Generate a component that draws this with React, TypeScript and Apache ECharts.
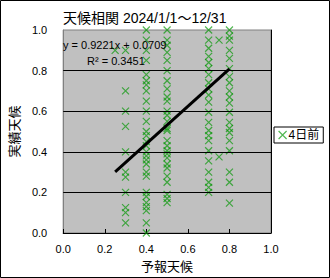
import React, { useEffect, useRef } from "react";
import * as echarts from "echarts";

const chartTitle = "天候相関 2024/1/1～12/31";
const seriesName = "4日前";
const xAxisName = "予報天候";
const yAxisName = "実績天候";
const axisTicks = [0, 0.2, 0.4, 0.6, 0.8, 1.0];
const gridLineValues = [0.2, 0.4, 0.6, 0.8];

const forecastValues = [0.25, 0.3, 0.4, 0.5, 0.7, 0.75, 0.8];
const actualAt025 = [0.9];
const actualAt03 = [0.9, 0.7, 0.6, 0.525, 0.4, 0.3, 0.275, 0.2, 0.125, 0.1, 0.05];
const actualAt04 = [
  1.0, 0.95, 0.9, 0.85, 0.78, 0.75, 0.73, 0.7, 0.65, 0.6, 0.55, 0.5, 0.48, 0.45, 0.43, 0.4,
  0.38, 0.36, 0.34, 0.3, 0.28, 0.2, 0.18, 0.15, 0.13, 0.11, 0.05, 0.0,
];
const actualAt05 = [
  1.0, 0.95, 0.925, 0.89, 0.85, 0.8, 0.75, 0.71, 0.67, 0.65, 0.6, 0.58, 0.55, 0.515, 0.505,
  0.455, 0.43, 0.405, 0.39, 0.37, 0.34, 0.32, 0.28, 0.25, 0.19, 0.17, 0.15,
];
const actualAt07 = [
  1.0, 0.95, 0.91, 0.87, 0.84, 0.81, 0.78, 0.74, 0.71, 0.68, 0.645, 0.595, 0.545, 0.505, 0.48,
  0.455, 0.405, 0.355, 0.3, 0.25, 0.225, 0.2,
];
const actualAt075 = [0.95, 0.375];
const actualAt08 = [
  1.0, 0.97, 0.95, 0.9, 0.86, 0.81, 0.77, 0.74, 0.7, 0.67, 0.64, 0.595, 0.545, 0.515, 0.495,
  0.455, 0.405, 0.3, 0.25, 0.147,
];
const actualColumns = [actualAt025, actualAt03, actualAt04, actualAt05, actualAt07, actualAt075, actualAt08];

const trendSlope = 0.9221;
const trendIntercept = 0.0709;
const trendR2 = 0.3451;
const trendXRange = [0.25, 0.8];

const FONT = "'Liberation Sans', 'Noto Sans CJK JP', sans-serif";
const CROSS = "path://M0,0L10,10M10,0L0,10";
const GREEN = "rgba(0,150,0,0.85)";

export default function App() {
  const ref = useRef<HTMLDivElement>(null);
  useEffect(() => {
    if (!ref.current) return;
    const chart = echarts.init(ref.current, null, { renderer: "svg" });
    const scatterData: number[][] = [];
    forecastValues.forEach((fx, i) => {
      actualColumns[i].forEach((y) => scatterData.push([fx, y]));
    });
    const trendData = trendXRange.map((x) => [x, trendSlope * x + trendIntercept]);
    chart.setOption({
      animation: false,
      textStyle: { fontFamily: FONT },
      title: {
        text: chartTitle,
        left: 58,
        top: 6,
        textStyle: { fontSize: 14, fontWeight: "normal", color: "#000", fontFamily: FONT },
      },
      legend: {
        data: [
          {
            name: seriesName,
            icon: CROSS,
            itemStyle: { color: "transparent", borderColor: GREEN, borderWidth: 1.2 },
          },
        ],
        left: 274,
        top: 127,
        orient: "vertical",
        padding: [2, 4, 2, 4],
        itemWidth: 8,
        itemHeight: 8,
        borderColor: "#000",
        borderWidth: 1,
        backgroundColor: "#fff",
        borderRadius: 0,
        textStyle: { fontSize: 12, color: "#000", fontFamily: FONT, padding: [0, 0, 0, -3] },
      },
      grid: {
        left: 58,
        right: 59,
        top: 30,
        bottom: 45,
        show: true,
        backgroundColor: "#c0c0c0",
        borderColor: "#808080",
        borderWidth: 1,
      },
      xAxis: {
        type: "value",
        min: 0,
        max: 1,
        interval: 0.2,
        name: xAxisName,
        nameLocation: "middle",
        nameGap: 27,
        nameTextStyle: { fontSize: 13, color: "#000", fontFamily: FONT },
        axisLine: { show: true, lineStyle: { color: "#000", width: 1 } },
        axisTick: { show: true, inside: true, length: 4, lineStyle: { color: "#000" } },
        axisLabel: {
          fontSize: 11,
          color: "#000",
          margin: 10,
          formatter: (v: number) => v.toFixed(1),
        },
        splitLine: { show: false },
      },
      yAxis: [
        {
          type: "value",
          min: 0,
          max: 1,
          interval: 0.2,
          name: yAxisName,
          nameLocation: "middle",
          nameRotate: 90,
          nameGap: 37,
          nameTextStyle: { fontSize: 13, color: "#000", fontFamily: FONT },
          axisLine: { show: true, lineStyle: { color: "#808080" } },
          axisTick: { show: false },
          axisLabel: {
            fontSize: 11,
            color: "#000",
            margin: 16,
            formatter: (v: number) => v.toFixed(1),
          },
          splitLine: { show: false },
        },
        {
          type: "value",
          min: 0,
          max: 1,
          interval: 0.2,
          position: "right",
          axisLine: { show: true, lineStyle: { color: "#000" } },
          axisTick: { show: false },
          axisLabel: { show: false },
          splitLine: { show: false },
        },
      ],
      series: [
        {
          name: "grid",
          type: "line",
          data: [],
          z: 1,
          markLine: {
            silent: true,
            symbol: "none",
            label: { show: false },
            lineStyle: { color: "#000", width: 1, type: "solid" },
            data: gridLineValues.map((v) => ({ yAxis: v })),
          },
        },
        {
          name: seriesName,
          type: "scatter",
          symbol: CROSS,
          symbolSize: 7,
          z: 3,
          itemStyle: { color: "transparent", borderColor: GREEN, borderWidth: 1.2 },
          data: scatterData,
        },
        {
          name: "trend",
          type: "line",
          symbol: "none",
          z: 4,
          lineStyle: { color: "#000", width: 3 },
          data: trendData,
        },
      ],
      graphic: [
        {
          type: "rect",
          shape: { x: 0.5, y: 0.5, width: 329, height: 277 },
          style: { fill: "none", stroke: "#000", lineWidth: 1 },
          z: 10,
        },
        {
          type: "text",
          left: 63,
          top: 39,
          z: 10,
          style: {
            text: `y = ${trendSlope}x + ${trendIntercept}`,
            font: `11px ${FONT}`,
            fill: "#000",
          },
        },
        {
          type: "text",
          left: 87,
          top: 55,
          z: 10,
          style: {
            text: `R² = ${trendR2}`,
            font: `11px ${FONT}`,
            fill: "#000",
          },
        },
      ],
    });
    return () => chart.dispose();
  }, []);
  return (
    <div
      ref={ref}
      style={{ position: "absolute", left: 0, top: 0, width: 330, height: 278, background: "#fff" }}
    />
  );
}
